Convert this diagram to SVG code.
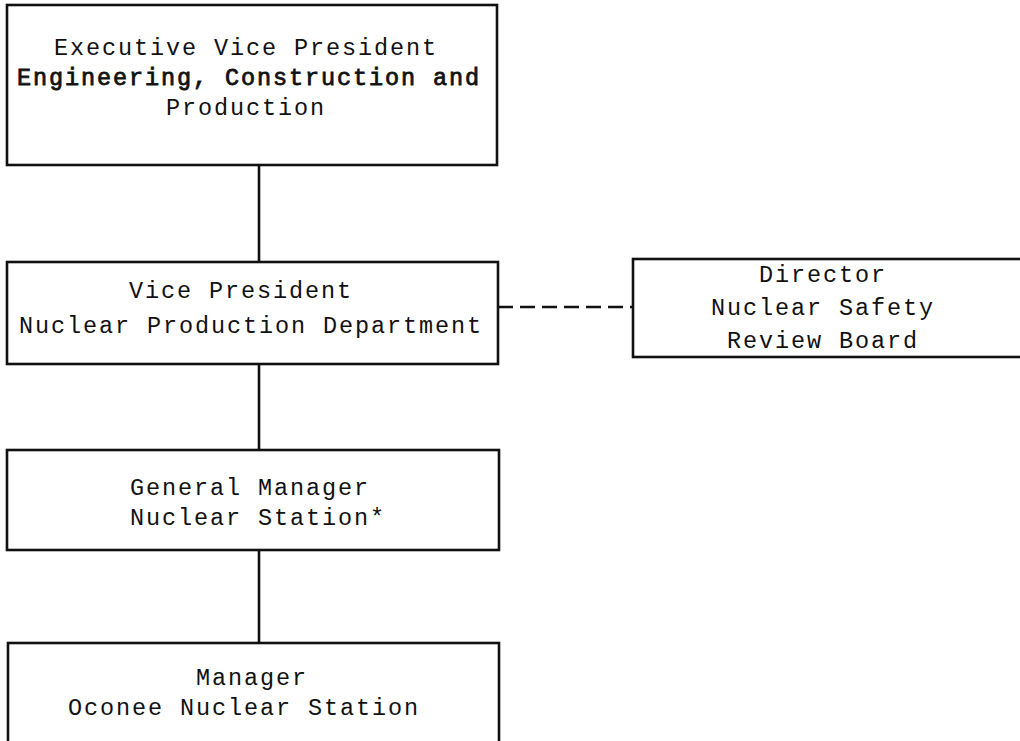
<svg xmlns="http://www.w3.org/2000/svg" width="1020" height="741" viewBox="0 0 1020 741">
<style>
.box{fill:#fff;stroke:#111;stroke-width:2.6}
.t{font-family:"Liberation Mono","Courier New",monospace;font-size:23.5px;letter-spacing:1.9px;fill:#111;text-anchor:middle}
.b{stroke:#111;stroke-width:0.8}
.c{stroke:#111;stroke-width:2.6;fill:none}
.d{stroke:#111;stroke-width:2.6;fill:none;stroke-dasharray:15 7}
</style>
<rect width="1020" height="741" fill="#fff"/>
<g id="connectors">
<line class="c" x1="259" y1="165" x2="259" y2="262"/>
<line class="c" x1="259" y1="364" x2="259" y2="450"/>
<line class="c" x1="259" y1="550" x2="259" y2="643"/>
<line class="d" x1="498" y1="307" x2="633" y2="307"/>
</g>
<g id="evp">
<rect class="box" x="7" y="5" width="490" height="160"/>
<text class="t" x="246" y="55">Executive Vice President</text>
<text class="t b" x="249" y="85">Engineering, Construction and</text>
<text class="t" x="246" y="115">Production</text>
</g>
<g id="vp">
<rect class="box" x="7" y="262" width="491" height="102"/>
<text class="t" x="241" y="298">Vice President</text>
<text class="t" x="251" y="333">Nuclear Production Department</text>
</g>
<g id="director">
<rect class="box" x="633" y="259" width="400" height="98"/>
<text class="t" x="823" y="282">Director</text>
<text class="t" x="823" y="315">Nuclear Safety</text>
<text class="t" x="823" y="348">Review Board</text>
</g>
<g id="gm">
<rect class="box" x="7" y="450" width="492" height="100"/>
<text class="t" x="250" y="495">General Manager</text>
<text class="t" x="258" y="525">Nuclear Station*</text>
</g>
<g id="manager">
<rect class="box" x="8" y="643" width="491" height="110"/>
<text class="t" x="252" y="685">Manager</text>
<text class="t" x="244" y="715">Oconee Nuclear Station</text>
</g>
</svg>
